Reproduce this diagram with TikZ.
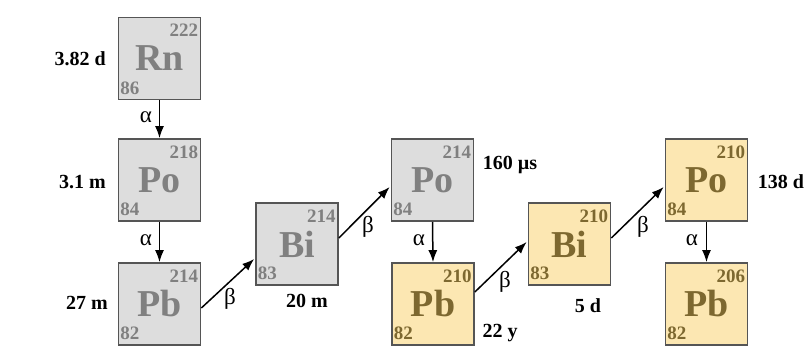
\documentclass[tikz,border=0pt]{standalone}
\usepackage{fontspec}
\setmainfont{Liberation Serif}
\usetikzlibrary{arrows.meta,calc}
\definecolor{gfill}{HTML}{DDDDDD}
\definecolor{gtext}{HTML}{808080}
\definecolor{yfill}{HTML}{FCE7B2}
\definecolor{ytext}{HTML}{7D6830}
\definecolor{bord}{HTML}{555555}
\newcommand\isobox[7]{%
  \node[elem, fill=#3, text=#4] (#1) at (#2) {#5};
  \node[massn, text=#4] (#1m) at ($(#1.north east)+(-3,20)$) {#6};
  \node[atomn, text=#4] (#1z) at ($(#1.south west)+(2.5,-6)$) {#7};
}
\begin{document}
\begin{tikzpicture}[x=1pt,y=-1pt,
  elem/.style={draw=bord, line width=1.7pt, minimum size=82pt, inner sep=0pt,
    font=\fontsize{38}{38}\selectfont\bfseries},
  massn/.style={inner sep=0pt, anchor=base east, font=\fontsize{19}{19}\selectfont\bfseries},
  atomn/.style={inner sep=0pt, anchor=base west, font=\fontsize{19}{19}\selectfont\bfseries},
  hl/.style={inner sep=0pt, font=\fontsize{20}{20}\selectfont\bfseries, text=black},
  arr/.style={-{Latex[length=12pt,width=9pt]}, line width=1.5pt, black},
  lab/.style={inner sep=0pt, font=\fontsize{23}{23}\selectfont}]
\useasboundingbox (0,0) rectangle (806,358);
\isobox{rn}{159.5,58.5}{gfill}{gtext}{Rn}{222}{86}
\isobox{poa}{159.5,180}{gfill}{gtext}{Po}{218}{84}
\isobox{pba}{159.5,304}{gfill}{gtext}{Pb}{214}{82}
\isobox{bia}{297,244}{gfill}{gtext}{Bi}{214}{83}
\isobox{pob}{432.5,180}{gfill}{gtext}{Po}{214}{84}
\isobox{pbb}{433,304}{yfill}{ytext}{Pb}{210}{82}
\isobox{bib}{569.5,244}{yfill}{ytext}{Bi}{210}{83}
\isobox{poc}{706.5,180}{yfill}{ytext}{Po}{210}{84}
\isobox{pbc}{706.5,304}{yfill}{ytext}{Pb}{206}{82}
% half-lives
\node[hl, anchor=east] (t1) at (106,59) {3.82 d};
\node[hl, anchor=east] (t2) at (106,182) {3.1 m};
\node[hl, anchor=east] (t3) at (108,303) {27 m};
\node[hl] (t4) at (307,301) {20 m};
\node[hl] (t5) at (510,165) {160 µs};
\node[hl] (t6) at (500,333) {22 y};
\node[hl] (t7) at (588,306) {5 d};
\node[hl] (t8) at (781,182) {138 d};
% alpha decays
\draw[arr] (rn.south) -- (poa.north);
\draw[arr] (poa.south) -- (pba.north);
\draw[arr] (pob.south) -- (pbb.north);
\draw[arr] (poc.south) -- (pbc.north);
\node[lab] (a1) at (146,117) {α};
\node[lab] (a2) at (146,240) {α};
\node[lab] (a3) at (419,240) {α};
\node[lab] (a4) at (692,240) {α};
% beta decays
\draw[arr] ($(pba.east)+(0,4)$) -- ($(bia.west)+(-1,15)$);
\draw[arr] ($(bia.east)+(0,-6)$) -- ($(pob.west)+(-1,7)$);
\draw[arr] ($(pbb.east)+(0,-12)$) -- ($(bib.west)+(-1,-2)$);
\draw[arr] ($(bib.east)+(0,-6)$) -- ($(poc.west)+(-1,7)$);
\node[lab] (b1) at (230,299) {β};
\node[lab] (b2) at (368,227) {β};
\node[lab] (b3) at (505,282) {β};
\node[lab] (b4) at (643,227) {β};
\end{tikzpicture}
\end{document}
